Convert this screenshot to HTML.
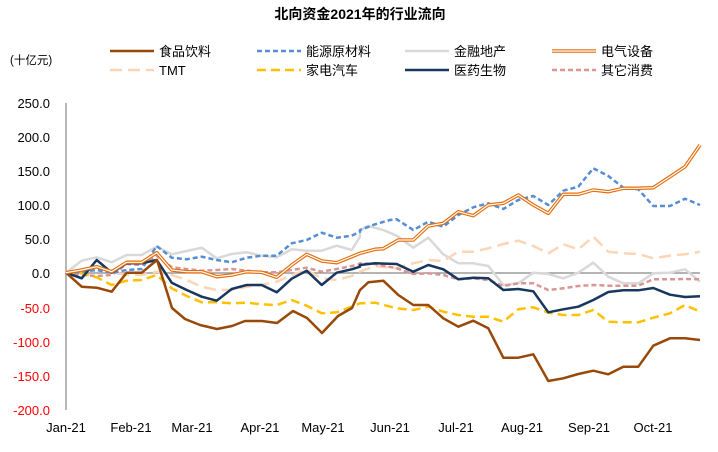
<!DOCTYPE html><html><head><meta charset="utf-8"><style>
body{margin:0;background:#fff;width:718px;height:447px;overflow:hidden}
text{font-family:"Liberation Sans","Noto Sans CJK SC",sans-serif}
</style></head><body>
<svg id="s" width="718" height="447" xmlns="http://www.w3.org/2000/svg">
<text x="360" y="19" text-anchor="middle" font-size="14" font-weight="bold">北向资金2021年的行业流向</text>
<text x="10" y="64" font-size="11.5">(十亿元)</text>
<g font-size="13" text-anchor="end">
<text x="50" y="108">250.0</text><text x="50" y="142">200.0</text><text x="50" y="176">150.0</text><text x="50" y="210">100.0</text><text x="50" y="244">50.0</text><text x="50" y="278">0.0</text>
<g fill="#f00"><text x="50" y="313">-50.0</text><text x="50" y="347">-100.0</text><text x="50" y="381">-150.0</text><text x="50" y="415">-200.0</text></g>
</g>
<line x1="66" y1="103" x2="66" y2="410" stroke="#888" stroke-width="1.2"/>
<line x1="66" y1="273" x2="700" y2="273" stroke="#888" stroke-width="1.2"/>
<g font-size="13" text-anchor="middle">
<text x="66" y="432">Jan-21</text><text x="131" y="432">Feb-21</text><text x="192" y="432">Mar-21</text><text x="260" y="432">Apr-21</text><text x="323" y="432">May-21</text><text x="390" y="432">Jun-21</text><text x="456" y="432">Jul-21</text><text x="522" y="432">Aug-21</text><text x="589" y="432">Sep-21</text><text x="653" y="432">Oct-21</text>
</g>
<g id="lines"></g>
<g font-size="13" id="leg"></g>
</svg>
<script>
const S=[
{n:"金融地产",c:"#d9d9d9",w:2.5,d:"",L:[198,548,245,512,290,502,335,517,380,495,425,495,470,470,515,493,560,483,605,473,650,505,695,492,740,487,785,497,830,502,875,478,920,482,965,482,1010,467,1055,480,1080,440],R:[0,420,25,408,70,420,110,437,160,473,205,443,250,493,295,520,340,520,385,528,430,585,475,580,520,548,565,552,610,565,655,548,700,518,745,560,790,580,835,580,880,550,930,548,975,538,1020,575],lx:405,ly:56},
{n:"TMT",c:"#fbd5b5",w:2.5,d:"12,6",L:[198,548,245,545,290,527,335,548,380,555,425,555,470,545,515,555,560,570,605,590,650,600,695,600,740,590,785,585,830,575,875,555,920,540,965,565,1010,570,1055,558,1080,545],R:[0,545,45,528,110,535,160,520,205,510,250,513,295,485,340,485,385,475,430,462,475,452,520,468,565,490,610,463,655,478,700,440,745,485,790,490,835,492,880,505,930,497,975,493,1020,485],lx:110,ly:75},
{n:"其它消费",c:"#d99694",w:2.5,d:"5,3",L:[198,548,245,555,290,558,335,555,380,522,425,525,470,497,515,532,560,537,605,542,650,540,695,537,740,542,785,547,830,547,875,540,920,533,965,545,1010,537,1055,528,1080,522],R:[0,520,45,522,110,535,160,552,205,550,250,555,295,568,340,565,385,570,430,588,475,580,520,580,565,600,610,595,655,588,700,585,745,587,790,587,835,587,880,568,930,568,975,567,1020,568],lx:552,ly:75},
{n:"家电汽车",c:"#ffc000",w:2.5,d:"9,5",L:[198,548,245,550,290,562,335,585,380,572,425,570,470,555,515,595,560,618,605,637,650,637,695,640,740,638,785,643,830,645,875,630,920,647,965,670,1010,667,1055,650,1080,640],R:[0,640,45,638,110,655,160,660,205,650,250,665,295,675,340,680,385,680,430,695,475,658,520,652,565,668,610,675,655,675,700,660,745,695,790,697,835,697,880,683,930,670,975,645,1020,665],lx:257,ly:75},
{n:"能源原材料",c:"#558ed5",w:2.5,d:"5,3",L:[198,548,245,545,290,540,335,548,380,540,425,537,470,468,515,503,560,508,605,500,650,510,695,517,740,503,785,497,830,497,875,460,920,450,965,428,1010,443,1055,437,1080,425],R:[0,420,45,403,90,390,110,388,160,420,205,395,250,410,295,375,340,352,385,340,430,357,475,330,520,318,565,345,610,302,655,290,700,235,745,258,790,293,835,298,880,348,930,348,975,326,1020,345],lx:257,ly:56},
{n:"医药生物",c:"#17375e",w:2.5,d:"",L:[198,548,245,565,290,510,335,548,380,520,425,520,470,510,515,578,560,600,605,620,650,632,695,597,740,585,785,585,830,607,875,566,920,542,965,585,1010,548,1055,538,1080,530],R:[0,525,45,520,110,522,160,545,205,525,250,538,295,568,340,563,385,565,430,600,475,597,520,604,565,667,610,658,655,650,700,630,745,606,790,601,835,601,880,594,930,614,975,621,1020,619],lx:405,ly:75},
{n:"食品饮料",c:"#984807",w:2.5,d:"",L:[198,548,245,590,290,593,335,605,380,548,425,548,471,510,516,654,555,687,600,705,651,717,696,708,735,693,786,693,831,699,879,663,921,684,966,729,1014,678,1056,654],R:[0,600,25,577,70,572,115,615,160,645,205,645,250,685,295,710,340,692,385,715,430,803,475,803,520,793,565,873,610,865,655,852,700,842,745,853,790,830,835,830,880,767,930,745,975,745,1020,750],lx:110,ly:56},
{n:"电气设备",c:"#e46c0a",w:1,dbl:1,d:"",L:[198,548,245,540,290,530,335,545,380,517,425,517,470,488,515,540,560,545,605,545,650,560,695,555,740,545,785,547,830,562,875,525,920,493,965,513,1010,518,1055,500,1080,490],R:[0,490,45,478,70,476,115,450,160,450,205,408,250,400,295,365,340,377,385,345,430,340,475,315,520,345,565,370,610,313,655,313,700,300,745,305,790,295,835,295,880,293,930,260,975,230,1020,165],lx:552,ly:56}
];
const NS="http://www.w3.org/2000/svg";
function el(p,t,a){const e=document.createElementNS(NS,t);for(const k in a)e.setAttribute(k,a[k]);p.appendChild(e);return e;}
const g=document.getElementById("lines"),lg=document.getElementById("leg");
S.forEach(s=>{let pts=[];
for(let i=0;i<s.L.length;i+=2)pts.push((s.L[i]/3).toFixed(1)+","+(90+s.L[i+1]/3).toFixed(1));
for(let i=0;i<s.R.length;i+=2)pts.push((360+s.R[i]/3).toFixed(1)+","+(90+s.R[i+1]/3).toFixed(1));
const P=pts.join(" ");
if(s.dbl){el(g,"polyline",{points:P,fill:"none",stroke:s.c,"stroke-width":3.5,"stroke-linejoin":"round"});el(g,"polyline",{points:P,fill:"none",stroke:"#fff","stroke-width":1.2,"stroke-linejoin":"round"});
el(lg,"line",{x1:s.lx,y1:s.ly-5,x2:s.lx+44,y2:s.ly-5,stroke:s.c,"stroke-width":3.5});el(lg,"line",{x1:s.lx,y1:s.ly-5,x2:s.lx+44,y2:s.ly-5,stroke:"#fff","stroke-width":1.2});}
else{el(g,"polyline",{points:P,fill:"none",stroke:s.c,"stroke-width":s.w,"stroke-dasharray":s.d,"stroke-linejoin":"round"});
el(lg,"line",{x1:s.lx,y1:s.ly-5,x2:s.lx+44,y2:s.ly-5,stroke:s.c,"stroke-width":2.5,"stroke-dasharray":s.d});}
const t=el(lg,"text",{x:s.lx+49,y:s.ly});t.textContent=s.n;});
</script>
</body></html>
